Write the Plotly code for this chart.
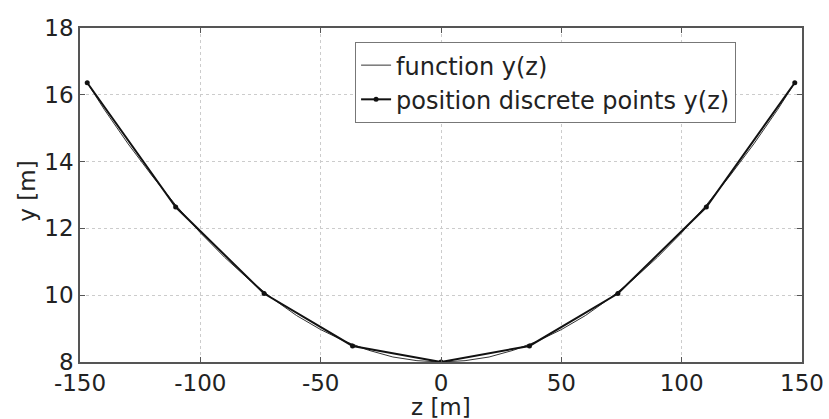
import plotly.graph_objects as go

# discrete points
z_pts = [-147, -110.25, -73.5, -36.75, 0, 36.75, 73.5, 110.25, 147]
y_pts = [16.36, 12.64, 10.05, 8.48, 8.0, 8.48, 10.05, 12.64, 16.36]

# function y(z), values
z_fun = [-147, -140, -130, -120, -110, -100, -90, -80, -70, -60, -50, -40, -30, -20, -10,
         0, 10, 20, 30, 40, 50, 60, 70, 80, 90, 100, 110, 120, 130, 140, 147]
y_fun = [16.36, 15.57, 14.53, 13.57, 12.68, 11.87, 11.14, 10.48, 9.90, 9.39, 8.97, 8.62, 8.35, 8.15, 8.04,
         8.0, 8.04, 8.15, 8.35, 8.62, 8.97, 9.39, 9.90, 10.48, 11.14, 11.87, 12.68, 13.57, 14.53, 15.57, 16.36]

x_ticks = [-150, -100, -50, 0, 50, 100, 150]
y_ticks = [8, 10, 12, 14, 16, 18]

FONT = "DejaVu Sans, Arial, sans-serif"
TXT = "#222222"

fig = go.Figure()
fig.add_trace(go.Scatter(x=z_fun, y=y_fun, mode="lines", name="function y(z)",
                         line=dict(color="#333333", width=1)))
fig.add_trace(go.Scatter(x=z_pts, y=y_pts, mode="lines+markers", name="position discrete points y(z)",
                         line=dict(color="#111111", width=2),
                         marker=dict(color="#111111", size=5)))

axis_common = dict(showgrid=True, gridcolor="#cccccc", gridwidth=1, griddash="dot",
                   showline=True, linecolor="#555555", linewidth=1.5, mirror="ticks",
                   ticks="inside", ticklen=5, tickcolor="#555555",
                   zeroline=False, automargin=False,
                   tickfont=dict(family=FONT, size=23, color=TXT))

fig.update_xaxes(range=[-150, 150], tickvals=x_ticks, ticktext=[str(v) for v in x_ticks],
                 **axis_common)
fig.update_yaxes(range=[8, 18], tickvals=y_ticks, ticktext=[str(v) for v in y_ticks],
                 **axis_common)

fig.add_annotation(text="z [m]", xref="paper", yref="paper", x=0.5, y=-0.135,
                   xanchor="center", yanchor="middle", showarrow=False,
                   font=dict(family=FONT, size=23, color=TXT))
fig.add_annotation(text="y [m]", xref="paper", yref="paper", x=-0.0734, y=0.51,
                   xanchor="center", yanchor="middle", showarrow=False, textangle=-90,
                   font=dict(family=FONT, size=23, color=TXT))

fig.update_layout(
    width=829, height=419,
    margin=dict(l=80, r=27, t=28, b=57),
    paper_bgcolor="white", plot_bgcolor="white",
    font=dict(family=FONT, size=23, color=TXT),
    legend=dict(x=0.381, y=0.958, xanchor="left", yanchor="top",
                bgcolor="white", bordercolor="#777777", borderwidth=1,
                font=dict(family=FONT, size=24, color=TXT),
                itemwidth=30, tracegroupgap=0),
    showlegend=True,
)

fig.write_html("out.html")
